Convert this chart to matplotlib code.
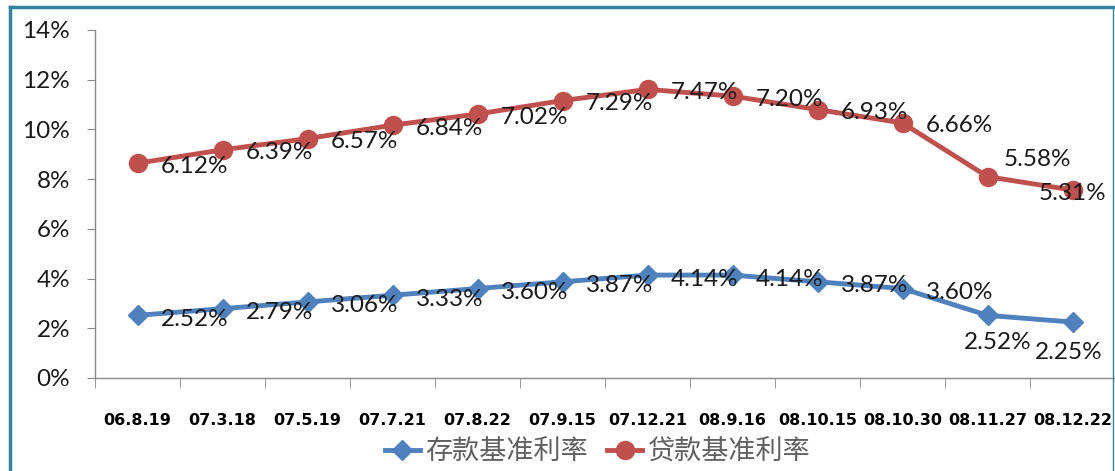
import matplotlib.pyplot as plt
from matplotlib.lines import Line2D
from matplotlib.ticker import FuncFormatter, FixedLocator

# data
dates = ["06.8.19", "07.3.18", "07.5.19", "07.7.21", "07.8.22", "07.9.15",
         "07.12.21", "08.9.16", "08.10.15", "08.10.30", "08.11.27", "08.12.22"]
deposit = [2.52, 2.79, 3.06, 3.33, 3.60, 3.87, 4.14, 4.14, 3.87, 3.60, 2.52, 2.25]
loan = [6.12, 6.39, 6.57, 6.84, 7.02, 7.29, 7.47, 7.20, 6.93, 6.66, 5.58, 5.31]

# label offsets in pixels (dx, dy), dy positive = up
dep_off = [(57, -4)] * 10 + [(10, -27), (-4, -30)]
loan_off = [(57, -3)] * 10 + [(50, 17), (0, -3)]

BLUE = "#4F81BD"
RED = "#C0504D"
TEAL = "#31849B"

plt.rcParams["font.family"] = ["Lato", "DejaVu Sans"]

fig = plt.figure(figsize=(11.15, 4.71), dpi=100)
ax = fig.add_axes([95 / 1115, 1 - 378 / 471, 1020 / 1115, (378 - 30) / 471])

x = list(range(len(dates)))
dep = [v / 100 for v in deposit]
stacked = [(d + l) / 100 for d, l in zip(deposit, loan)]

ax.plot(x, dep, color=BLUE, lw=3.5, marker="D", ms=10, zorder=3)
ax.plot(x, stacked, color=RED, lw=3.5, marker="o", ms=13, zorder=3)

for i in x:
    ax.annotate(f"{deposit[i]:.2f}%", (i, dep[i]), xytext=dep_off[i],
                textcoords="offset pixels", ha="center", va="center",
                fontsize=17.5, color="#1a1a1a", zorder=4)
    ax.annotate(f"{loan[i]:.2f}%", (i, stacked[i]), xytext=loan_off[i],
                textcoords="offset pixels", ha="center", va="center",
                fontsize=17.5, color="#1a1a1a", zorder=4)

ax.set_xlim(-0.5, len(dates) - 0.5)
ax.set_ylim(0, 0.14)
ax.set_yticks([i / 100 for i in range(0, 15, 2)])
ax.yaxis.set_major_formatter(FuncFormatter(lambda v, p: f"{v * 100:.0f}%"))
ax.tick_params(axis="y", direction="out", length=6, color="#888888",
               labelsize=17.5, labelcolor="#1a1a1a", pad=12)

ax.set_xticks(x)
ax.set_xticklabels(dates, fontfamily="DejaVu Sans", fontweight="bold",
                   fontsize=11.5)
ax.xaxis.set_minor_locator(FixedLocator([i - 0.5 for i in range(len(dates) + 1)]))
ax.tick_params(axis="x", which="major", length=0, pad=25)
ax.tick_params(axis="x", which="minor", length=7, color="#888888")

for s in ["top", "right"]:
    ax.spines[s].set_visible(False)
for s in ["left", "bottom"]:
    ax.spines[s].set_color("#888888")
    ax.spines[s].set_linewidth(1)

# outer frame
fig.add_artist(Line2D([10 / 1115, 10 / 1115], [0, 1 - 7 / 471], color=TEAL, lw=2.5))
fig.add_artist(Line2D([10 / 1115, 1113 / 1115], [1 - 7 / 471, 1 - 7 / 471], color=TEAL, lw=2.5))
fig.add_artist(Line2D([1113 / 1115, 1113 / 1115], [0, 1 - 7 / 471], color=TEAL, lw=1))

handles = [
    Line2D([], [], color=BLUE, lw=3.5, marker="D", ms=10),
    Line2D([], [], color=RED, lw=3.5, marker="o", ms=13),
]
fig.legend(handles, ["存款基准利率", "贷款基准利率"], loc="center",
           bbox_to_anchor=(0.536, 0.04), ncol=2, frameon=False,
           prop={"family": ["Noto Sans CJK SC", "DejaVu Sans"], "size": 19.5,
                 "weight": "light"},
           labelcolor="#606060", handlelength=1.3, handletextpad=0.2,
           columnspacing=0.7, borderpad=0)

fig.savefig("out.png", dpi=100)
